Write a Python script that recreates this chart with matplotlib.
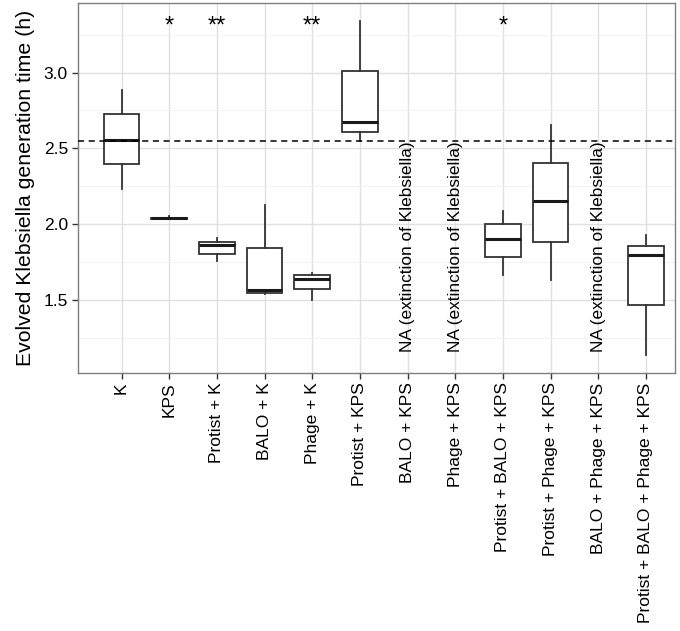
import matplotlib
matplotlib.use("Agg")
import matplotlib.pyplot as plt

plt.rcParams["font.family"] = ["Liberation Sans", "DejaVu Sans"]

categories = [
    "K", "KPS", "Protist + K", "BALO + K", "Phage + K", "Protist + KPS",
    "BALO + KPS", "Phage + KPS", "Protist + BALO + KPS", "Protist + Phage + KPS",
    "BALO + Phage + KPS", "Protist + BALO + Phage + KPS",
]
# five-number summaries (None = Klebsiella went extinct)
whisker_low = [2.235, 2.035, 1.761, 1.540, 1.500, 2.546, None, None, 1.667, 1.630, None, 1.136]
q1 = [2.397, 2.036, 1.805, 1.544, 1.572, 2.610, None, None, 1.787, 1.886, None, 1.470]
median = [2.557, 2.040, 1.862, 1.566, 1.641, 2.671, None, None, 1.906, 2.156, None, 1.799]
q3 = [2.724, 2.044, 1.886, 1.842, 1.663, 3.011, None, None, 2.000, 2.404, None, 1.860]
whisker_high = [2.886, 2.052, 1.912, 2.125, 1.676, 3.340, None, None, 2.090, 2.654, None, 1.930]

stars = ["", "*", "**", "", "**", "", "", "", "*", "", "", ""]
ancestor_time = 2.546
na_text = "NA (extinction of Klebsiella)"

fig = plt.figure(figsize=(6.8, 6.31), dpi=100)
ax = fig.add_axes([77.7 / 680, 1 - 372.7 / 631, (675 - 77.7) / 680, (372.7 - 3) / 631])

stats = []
positions = []
for i, name in enumerate(categories):
    if median[i] is None:
        continue
    stats.append({
        "whislo": whisker_low[i], "q1": q1[i], "med": median[i],
        "q3": q3[i], "whishi": whisker_high[i], "fliers": [], "label": name,
    })
    positions.append(i + 1)

ax.bxp(
    stats, positions=positions, widths=0.75, showcaps=False, patch_artist=True,
    boxprops=dict(facecolor="white", edgecolor="#333333", linewidth=1.3),
    medianprops=dict(color="#1a1a1a", linewidth=2.2),
    whiskerprops=dict(color="#333333", linewidth=1.3),
    zorder=3,
)

ax.axhline(ancestor_time, color="black", linestyle=(0, (4, 3)), linewidth=1.1, zorder=4)

for i, s in enumerate(stars):
    if s:
        ax.text(i + 1, 3.30, s, ha="center", va="center", fontsize=17, zorder=5)

for i, name in enumerate(categories):
    if median[i] is None:
        ax.text(i + 1, 1.16, na_text, rotation=90, ha="center", va="bottom",
                fontsize=12.4, zorder=5)

ax.set_xlim(1 - 0.92, 12 + 0.61)
ax.set_ylim(1.022, 3.458)
ax.set_yticks([1.5, 2.0, 2.5, 3.0])
ax.set_yticklabels(["1.5", "2.0", "2.5", "3.0"], fontsize=12.5)
ax.set_yticks([1.25, 1.75, 2.25, 2.75, 3.25], minor=True)
ax.set_xticks(range(1, len(categories) + 1))
ax.set_xticklabels(categories, rotation=90, fontsize=12.5)
ax.grid(which="major", color="#e0e0e0", linewidth=1.0, zorder=0)
ax.grid(which="minor", axis="y", color="#f0f0f0", linewidth=0.6, zorder=0)
ax.set_axisbelow(True)
ax.tick_params(which="major", length=4, color="#333333", width=1.0, pad=3)
ax.tick_params(which="minor", length=0)
for sp in ax.spines.values():
    sp.set_color("#7f7f7f")
    sp.set_linewidth(1.0)

ax.set_ylabel("Evolved Klebsiella generation time (h)", fontsize=15.3, labelpad=6)

fig.savefig("out.png", dpi=100)
